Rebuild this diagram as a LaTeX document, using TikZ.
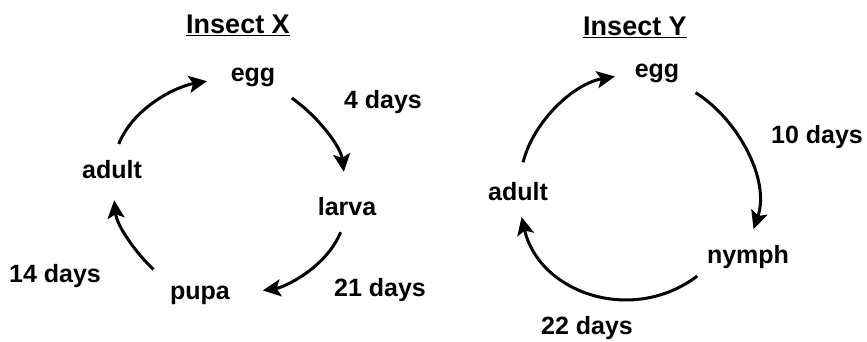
\documentclass[tikz,border=0pt]{standalone}
\usepackage{fontspec}
\setmainfont{Liberation Sans}
\usetikzlibrary{arrows.meta}

\begin{document}
\begin{tikzpicture}[x=1pt, y=1pt,
    every node/.style={font=\bfseries\fontsize{25}{30}\selectfont, inner sep=0pt},
    title/.style={font=\bfseries\fontsize{27}{30}\selectfont},
    cyc/.style={-{Stealth[length=18pt,width=17pt,inset=4pt]}, line width=3pt}]
            \useasboundingbox (0,0) rectangle (867,341);

            % Insect X
            \node[title] (titleX) at (238,316) {\underline{Insect X}};
            \node (eggX) at (253,264) {egg};
            \node (larvaX) at (347,134) {larva};
            \node (pupaX) at (200,46) {pupa};
            \node (adultX) at (112,171) {adult};
            \node (dXa) at (383,239) {4 days};
            \node (dXb) at (380,51) {21 days};
            \node (dXc) at (55,65) {14 days};

            % Cycle X
            \draw[cyc, shorten <=18pt, shorten >=24pt] (adultX.north) to[out=68, in=190] (eggX.west);
            \draw[cyc, shorten <=20pt, shorten >=26pt] (eggX.south east) to[out=-35, in=97] (larvaX.north);
            \draw[cyc, shorten <=17pt, shorten >=33pt] (larvaX.south) to[out=-112, in=8] (pupaX.east);
            \draw[cyc, shorten <=23pt, shorten >=21pt] (pupaX.north west) to[out=136, in=-84] (adultX.south);

            % Insect Y
            \node[title] (titleY) at (635,314) {\underline{Insect Y}};
            \node (eggY) at (657,268) {egg};
            \node (nymphY) at (748,84) {nymph};
            \node (adultY) at (518,149) {adult};
            \node (dYa) at (817,204) {10 days};
            \node (dYb) at (587,13) {22 days};

            % Cycle Y
            \draw[cyc, shorten <=21pt, shorten >=20pt] (adultY.north) to[out=76, in=190] (eggY.west);
            \draw[cyc, shorten <=19pt, shorten >=17pt] (eggY.south east) to[out=-32, in=71] (nymphY.north);
            \draw[cyc, shorten <=12pt, shorten >=16pt] (nymphY.south west) to[out=217, in=-77, looseness=1.2] (adultY.south);

        \end{tikzpicture}
\end{document}
